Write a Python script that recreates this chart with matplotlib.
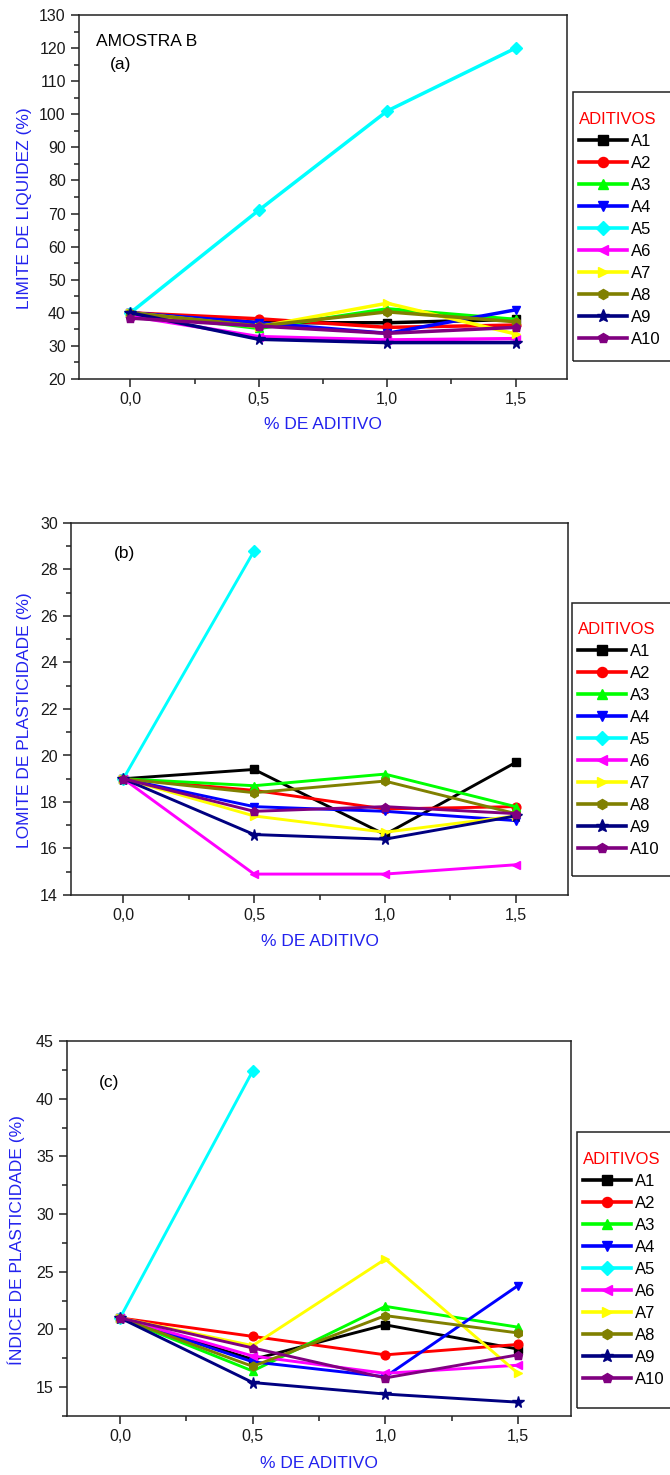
import matplotlib
matplotlib.use("Agg")
import matplotlib.pyplot as plt
import numpy as np
from matplotlib.ticker import MultipleLocator, FuncFormatter
from matplotlib.patches import Rectangle

plt.rcParams['font.family'] = ['Liberation Sans', 'DejaVu Sans']

# ---------------- data ----------------
additive_pct = [0.0, 0.5, 1.0, 1.5]
series_names = ["A1", "A2", "A3", "A4", "A5", "A6", "A7", "A8", "A9", "A10"]
series_colors = ["#000000", "#ff0000", "#00ff00", "#0000ff", "#00ffff",
                 "#ff00ff", "#ffff00", "#808000", "#000080", "#800080"]
series_markers = ["s", "o", "^", "v", "D", "<", ">", "h", "*", "p"]

# (a) Limite de liquidez (%)
ll_A1 = [40.0, 37.0, 37.0, 38.0]
ll_A2 = [40.0, 38.2, 35.6, 36.3]
ll_A3 = [40.0, 35.3, 41.2, 38.0]
ll_A4 = [40.0, 37.0, 33.8, 40.9]
ll_A5 = [40.0, 71.0, 101.0, 120.0]
ll_A6 = [39.0, 32.8, 31.8, 32.2]
ll_A7 = [40.0, 35.8, 42.9, 33.6]
ll_A8 = [40.0, 36.0, 40.3, 37.3]
ll_A9 = [40.0, 32.0, 31.0, 31.0]
ll_A10 = [38.4, 36.0, 33.8, 35.6]

# (b) Limite de plasticidade (%)
lp_A1 = [19.0, 19.4, 16.6, 19.7]
lp_A2 = [19.0, 18.5, 17.7, 17.8]
lp_A3 = [19.0, 18.7, 19.2, 17.8]
lp_A4 = [19.0, 17.8, 17.6, 17.2]
lp_A5 = [19.0, 28.8, np.nan, np.nan]
lp_A6 = [19.0, 14.9, 14.9, 15.3]
lp_A7 = [19.0, 17.4, 16.7, 17.4]
lp_A8 = [19.0, 18.4, 18.9, 17.5]
lp_A9 = [19.0, 16.6, 16.4, 17.4]
lp_A10 = [19.0, 17.6, 17.8, 17.5]

# (c) Indice de plasticidade (%)
ip_A1 = [21.0, 17.4, 20.4, 18.3]
ip_A2 = [21.0, 19.4, 17.8, 18.7]
ip_A3 = [21.0, 16.4, 22.0, 20.2]
ip_A4 = [21.0, 17.2, 15.9, 23.8]
ip_A5 = [21.0, 42.4, np.nan, np.nan]
ip_A6 = [21.0, 17.7, 16.2, 16.9]
ip_A7 = [21.0, 18.6, 26.1, 16.2]
ip_A8 = [21.0, 16.8, 21.2, 19.7]
ip_A9 = [21.0, 15.4, 14.4, 13.7]
ip_A10 = [21.0, 18.4, 15.8, 17.8]

ll_data = [ll_A1, ll_A2, ll_A3, ll_A4, ll_A5, ll_A6, ll_A7, ll_A8, ll_A9, ll_A10]
lp_data = [lp_A1, lp_A2, lp_A3, lp_A4, lp_A5, lp_A6, lp_A7, lp_A8, lp_A9, lp_A10]
ip_data = [ip_A1, ip_A2, ip_A3, ip_A4, ip_A5, ip_A6, ip_A7, ip_A8, ip_A9, ip_A10]

W, H = 670, 1475
fig = plt.figure(figsize=(W / 100, H / 100), dpi=100)


def px_axes(left, right, top, bottom):
    return fig.add_axes([left / W, 1 - bottom / H, (right - left) / W, (bottom - top) / H])


comma = FuncFormatter(lambda v, p: ("%.1f" % v).replace(".", ","))
intfmt = FuncFormatter(lambda v, p: "%d" % round(v))


def style(ax, ylim, ymaj, ymin, ylabel, ylab_x, lw_sp=1.1):
    ax.set_xlim(-0.2, 1.7)
    ax.set_ylim(*ylim)
    ax.xaxis.set_major_locator(MultipleLocator(0.5))
    ax.xaxis.set_minor_locator(MultipleLocator(0.25))
    ax.yaxis.set_major_locator(MultipleLocator(ymaj))
    ax.yaxis.set_minor_locator(MultipleLocator(ymin))
    ax.xaxis.set_major_formatter(comma)
    ax.yaxis.set_major_formatter(intfmt)
    ax.tick_params(which="both", direction="out", top=False, right=False,
                   labelsize=11.5, width=1.1, colors="#222222", labelcolor="#1a1a1a")
    ax.tick_params(which="major", length=6)
    ax.tick_params(which="minor", length=3.5)
    for s in ax.spines.values():
        s.set_linewidth(lw_sp)
        s.set_color("#222222")
    ax.set_xlabel("% DE ADITIVO", fontsize=12.5, color="#2222ee")
    ax.set_ylabel(ylabel, fontsize=12.5, color="#2222ee")
    ax.xaxis.label.set_va("center")
    ax.yaxis.label.set_va("center")
    ax.xaxis.set_label_coords(0.5, -0.126)
    ax.yaxis.set_label_coords(ylab_x, 0.47)


def draw(ax, data, lw, ms):
    for vals, name, c, m in zip(data, series_names, series_colors, series_markers):
        size = ms * 1.35 if m == "*" else ms
        ax.plot(additive_pct, vals, color=c, marker=m, markersize=size, lw=lw,
                markeredgecolor=c, label=name)


def add_legend(ax, left_px, top_px, bottom_px, title_top_px):
    fig.patches.append(Rectangle((left_px / W, 1 - bottom_px / H),
                                 (W + 20 - left_px) / W, (bottom_px - top_px) / H,
                                 transform=fig.transFigure, fill=False,
                                 edgecolor="#222222", lw=1.1, clip_on=False))
    leg = ax.legend(loc="upper left", bbox_to_anchor=((left_px + 6) / W, 1 - title_top_px / H),
                    bbox_transform=fig.transFigure, frameon=False, title="ADITIVOS",
                    fontsize=12, title_fontsize=12, alignment="left", borderpad=0,
                    borderaxespad=0, handlelength=2.9, handletextpad=0.2,
                    labelspacing=0.42, numpoints=1, markerscale=1.15)
    leg.get_title().set_color("#ff0000")
    for ln in leg.get_lines():
        ln.set_linewidth(2.6)


# ---------- (a) ----------
axa = px_axes(79, 567, 15, 379)
draw(axa, ll_data, 2.5, 6.3)
style(axa, (20, 130), 10, 5, "LIMITE DE LIQUIDEZ (%)", -0.112)
axa.text(0.035, 0.926, "AMOSTRA B", transform=axa.transAxes, fontsize=12.5,
         va="center", ha="left")
axa.text(0.0635, 0.865, "(a)", transform=axa.transAxes, fontsize=12.5,
         va="center", ha="left")
add_legend(axa, 573, 92, 361, 112)

# ---------- (b) ----------
axb = px_axes(71, 568, 523, 895)
draw(axb, lp_data, 2.1, 6.3)
style(axb, (14, 30), 2, 1, "LOMITE DE PLASTICIDADE (%)", -0.0936)
axb.text(0.0865, 0.919, "(b)", transform=axb.transAxes, fontsize=12.5,
         va="center", ha="left")
add_legend(axb, 572, 603, 876, 622)

# ---------- (c) ----------
axc = px_axes(67, 571, 1041, 1416)
draw(axc, ip_data, 2.1, 6.3)
style(axc, (12.5, 45), 5, 2.5, "ÍNDICE DE PLASTICIDADE (%)", -0.1)
axc.text(0.0635, 0.888, "(c)", transform=axc.transAxes, fontsize=12.5,
         va="center", ha="left")
add_legend(axc, 577, 1132, 1408, 1152)

fig.savefig("out.png", dpi=100)
